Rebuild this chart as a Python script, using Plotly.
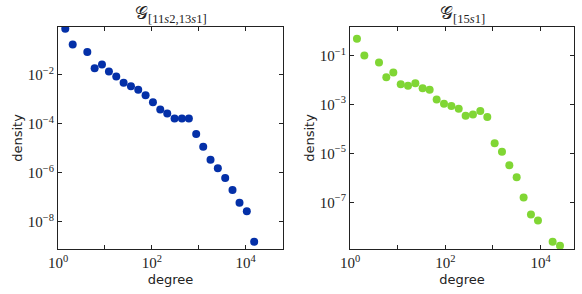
import plotly.graph_objects as go

# ---- data ----
left_degree = [1.43, 2.06, 4.22, 6.05, 8.67, 12.2, 17.5, 25.1, 36.0, 51.5, 73.9, 106, 152, 214,
               307, 440, 619, 887, 1253, 1795, 2570, 3690, 5280, 7450, 10670, 15310]
left_density = [0.771, 0.172, 0.0865, 0.0187, 0.0264, 0.0137, 0.00855, 0.00472, 0.00345, 0.00245,
                0.00149, 7.71e-4, 3.87e-4, 2.66e-4, 1.67e-4, 1.67e-4, 1.67e-4, 3.84e-5, 1.17e-5,
                3.46e-6, 1.53e-6, 6.19e-7, 2.01e-7, 5.94e-8, 2.72e-8, 1.53e-9]
right_degree = [1.40, 2.00, 4.06, 5.78, 8.11, 11.6, 16.5, 23.5, 33.4, 46.9, 65.8, 93.8, 134, 191,
                267, 380, 542, 760, 1084, 1545, 2203, 3141, 4395, 6266, 8790, 17860, 25470]
right_density = [0.492, 0.1, 0.0519, 0.0131, 0.0203, 0.00681, 0.00582, 0.00746, 0.00468, 0.0040,
                 0.00161, 0.00108, 8.65e-4, 6.73e-4, 3.49e-4, 3.95e-4, 5.41e-4, 3.08e-4, 2.61e-5,
                 1.19e-5, 3.32e-6, 1.08e-6, 1.60e-7, 3.25e-8, 1.85e-8, 2.51e-9, 1.72e-9]

x_tickvals = [1, 100, 10000]
x_ticktext = ["10<sup>0</sup>", "10<sup>2</sup>", "10<sup>4</sup>"]
x_minor_tickvals = [10, 1000]
left_ytickvals = [1e-2, 1e-4, 1e-6, 1e-8]
left_yticktext = ["10<sup>−2</sup>", "10<sup>−4</sup>", "10<sup>−6</sup>", "10<sup>−8</sup>"]
right_ytickvals = [1e-1, 1e-3, 1e-5, 1e-7]
right_yticktext = ["10<sup>−1</sup>", "10<sup>−3</sup>", "10<sup>−5</sup>", "10<sup>−7</sup>"]

left_title = "𝒢<sub>[11<i>s</i>2,13<i>s</i>1]</sub>"
right_title = "𝒢<sub>[15<i>s</i>1]</sub>"

fig = go.Figure()
fig.add_trace(go.Scatter(x=left_degree, y=left_density, mode="markers",
                         marker=dict(color="#0430a8", size=8), xaxis="x", yaxis="y"))
fig.add_trace(go.Scatter(x=right_degree, y=right_density, mode="markers",
                         marker=dict(color="#80d634", size=8), xaxis="x2", yaxis="y2"))

serif = "Liberation Serif, DejaVu Serif, serif"
sans = "DejaVu Sans, Liberation Sans, sans-serif"

axis_common = dict(type="log", showgrid=False, zeroline=False, showline=True, automargin=False,
                   linecolor="#222", linewidth=1, mirror="ticks", ticks="inside",
                   ticklen=4, tickcolor="#222", tickfont=dict(family=serif, size=15, color="#222"))
minor_x = dict(tickvals=x_minor_tickvals, ticks="inside", ticklen=4, tickcolor="#222", showgrid=False)
title_font = dict(family=sans, size=13, color="#222")

fig.update_layout(
    width=582, height=294,
    margin=dict(l=0, r=0, t=27, b=45),
    paper_bgcolor="white", plot_bgcolor="white",
    showlegend=False,
    xaxis=dict(axis_common, domain=[58 / 582, 283 / 582], range=[0, 4.80],
               tickvals=x_tickvals, ticktext=x_ticktext, anchor="y", minor=minor_x,
               title=dict(text="degree", font=title_font, standoff=4)),
    yaxis=dict(axis_common, domain=[0, 1], range=[-9.11, -0.045],
               tickvals=left_ytickvals, ticktext=left_yticktext, anchor="x",
               title=dict(text="density", font=title_font, standoff=2)),
    xaxis2=dict(axis_common, domain=[350 / 582, 574 / 582], range=[0, 4.70],
                tickvals=x_tickvals, ticktext=x_ticktext, anchor="y2", minor=minor_x,
                title=dict(text="degree", font=title_font, standoff=4)),
    yaxis2=dict(axis_common, domain=[0, 1], range=[-8.90, 0.167],
                tickvals=right_ytickvals, ticktext=right_yticktext, anchor="x2",
                title=dict(text="density", font=title_font, standoff=2)),
    annotations=[
        dict(text=left_title, x=(58 + 283) / 2 / 582, y=1, xref="paper", yref="paper",
             xanchor="center", yanchor="bottom", yshift=-1, showarrow=False,
             font=dict(family=serif, size=18, color="#222")),
        dict(text=right_title, x=(350 + 574) / 2 / 582, y=1, xref="paper", yref="paper",
             xanchor="center", yanchor="bottom", yshift=-1, showarrow=False,
             font=dict(family=serif, size=18, color="#222")),
    ],
)

fig.write_html("out.html", config={"displayModeBar": False},
               post_script="document.body.style.margin='0';")
